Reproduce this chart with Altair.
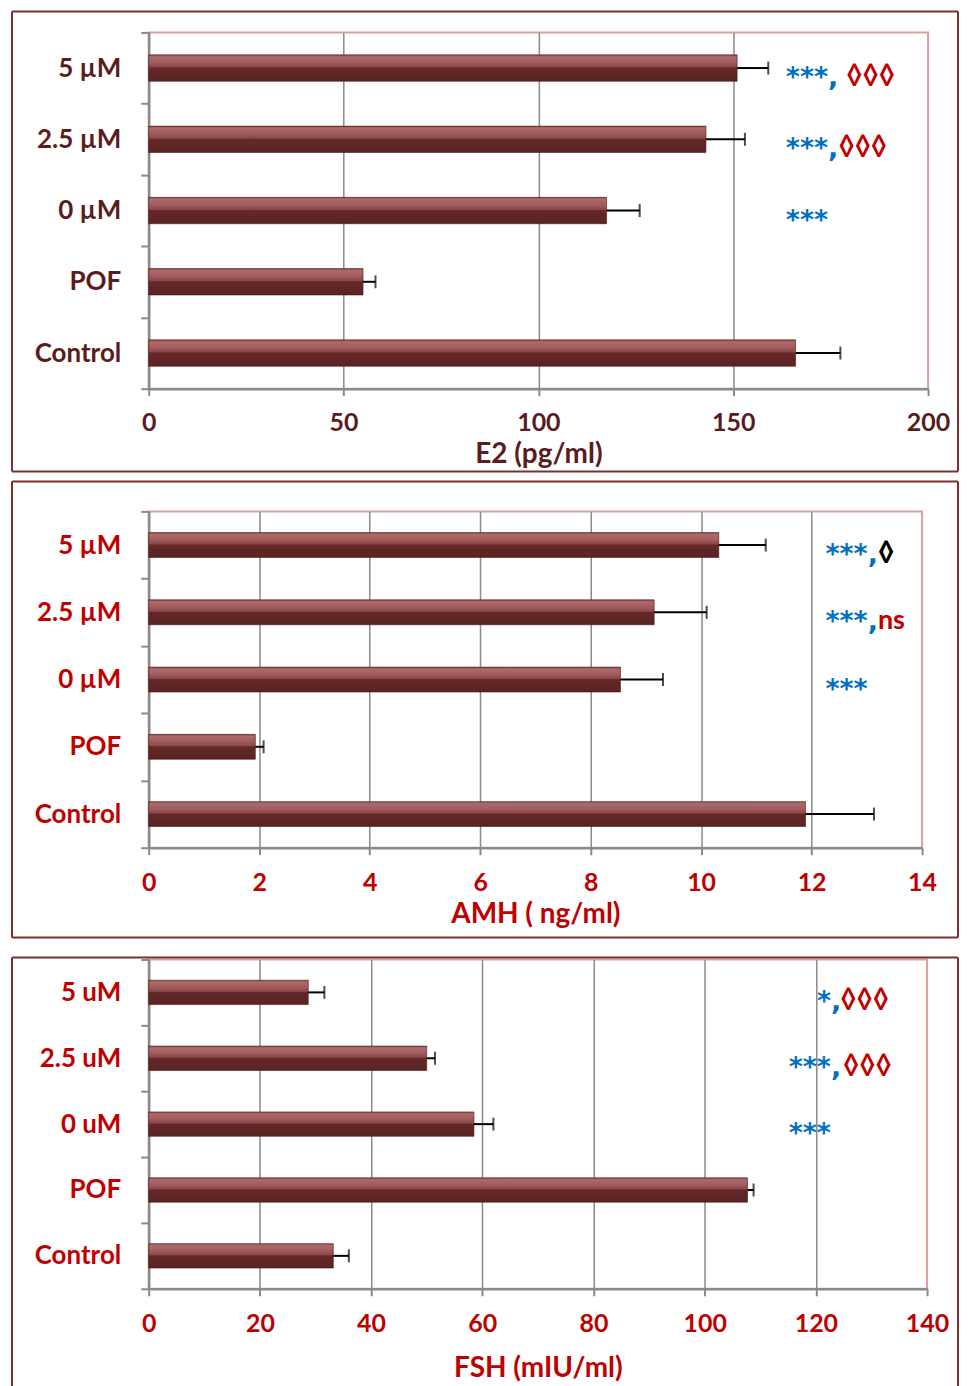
import altair as alt
import pandas as pd

# ---------------- data ----------------
e2_cats = ["5 µM", "2.5 µM", "0 µM\u00a0", "POF", "Control"]
e2_mean = [151, 143, 117.5, 55, 166]
e2_err = [8, 10, 8.5, 3.2, 11.5]
e2_ticks = [0, 50, 100, 150, 200]
e2_star_cat = ["5 µM", "2.5 µM", "0 µM\u00a0"]
e2_star_x = [163.5, 163.5, 163.5]
e2_star_txt = ["***,", "***,", "***"]
e2_dia_cat = ["5 µM", "2.5 µM"]
e2_dia_x = [179.0, 177.0]
e2_dia_txt = ["◊◊◊", "◊◊◊"]

amh_cats = ["5 µM", "2.5 µM", "0 µM\u00a0", "POF", "Control"]
amh_mean = [10.32, 9.15, 8.54, 1.93, 11.89]
amh_err = [0.85, 0.95, 0.77, 0.15, 1.24]
amh_ticks = [0, 2, 4, 6, 8, 10, 12, 14]
amh_star_cat = ["5 µM", "2.5 µM", "0 µM\u00a0"]
amh_star_x = [12.25, 12.25, 12.25]
amh_star_txt = ["***,", "***,", "***"]
amh_dia_cat = ["5 µM"]
amh_dia_x = [13.2]
amh_dia_txt = ["◊"]
amh_ns_cat = ["2.5 µM"]
amh_ns_x = [13.2]
amh_ns_txt = ["ns"]

fsh_cats = ["5 uM", "2.5 uM", "0 uM\u00a0", "POF", "Control"]
fsh_mean = [28.7, 50, 58.5, 107.7, 33.2]
fsh_err = [2.9, 1.5, 3.5, 1.1, 2.8]
fsh_ticks = [0, 20, 40, 60, 80, 100, 120, 140]
fsh_star_cat = ["5 uM", "2.5 uM", "0 uM\u00a0"]
fsh_star_x = [120.2, 115.1, 115.1]
fsh_star_txt = ["*,", "***,", "***"]
fsh_dia_cat = ["5 uM", "2.5 uM"]
fsh_dia_x = [124.4, 124.9]
fsh_dia_txt = ["◊◊◊", "◊◊◊"]

# ---------------- styling ----------------
GRAY = "#8a8a8a"
BLUE = "#0070c0"
RED = "#c00000"
MAROON = "#5a1c1c"
FRAME = "#7a3030"
FONT = "Lato"

bar_fill = alt.Gradient(
    gradient="linear",
    x1=0, x2=0, y1=0, y2=1,
    stops=[
        alt.GradientStop(offset=0.0, color="#8e4c4c"),
        alt.GradientStop(offset=0.08, color="#ad6a6a"),
        alt.GradientStop(offset=0.3, color="#a05c5c"),
        alt.GradientStop(offset=0.46, color="#8a4545"),
        alt.GradientStop(offset=0.5, color="#642828"),
        alt.GradientStop(offset=1.0, color="#5a2323"),
    ],
)

ONE = alt.Data(values=[{"k": 0}])


def frame_line(x0, x1, y0, y1):
    return alt.Chart(ONE).mark_rule(color=FRAME, strokeWidth=2).encode(
        x=alt.value(x0), x2=alt.value(x1), y=alt.value(y0), y2=alt.value(y1))


def panel(cats, means, errs, ticks, star_cat, star_x, star_txt,
          dia_cat, dia_x, dia_txt, dia_color, dia_weight, dia_size,
          ns_cat, ns_x, ns_txt,
          title, lab_color, w, h, box, bottom_line, label_pad, title_pad):
    xmax = ticks[-1]
    df = pd.DataFrame({"cat": cats, "m": means, "e": errs})
    df["hi"] = df["m"] + df["e"]

    xs = alt.Scale(domain=[0, xmax], nice=False, zero=True)
    ys = alt.Scale(domain=cats, paddingInner=0, paddingOuter=0)

    xax = alt.Axis(
        values=ticks, title=title, grid=True, format="d",
        gridColor={"condition": {"test": f"datum.value == {xmax} || datum.value == 0",
                                 "value": "transparent"}, "value": GRAY},
        gridWidth=1.5,
        domainColor=GRAY, domainWidth=2.5,
        tickColor=GRAY, tickWidth=2, tickSize=7,
        labelFont=FONT, labelFontSize=25, labelFontWeight="bold",
        labelColor=lab_color, labelPadding=label_pad, labelFlush=False,
        titleFont=FONT, titleFontSize=28, titleFontWeight="bold",
        titleColor=lab_color, titlePadding=title_pad,
    )
    yax = alt.Axis(
        title=None, grid=False, tickBand="extent",
        domainColor=GRAY, domainWidth=2.5,
        tickColor=GRAY, tickWidth=2, tickSize=8,
        labelFont=FONT, labelFontSize=26, labelFontWeight="bold",
        labelColor=lab_color, labelPadding=20,
    )
    y_enc = alt.Y("cat:N", scale=ys, axis=yax, sort=cats)
    y_plain = alt.Y("cat:N", scale=ys, sort=cats)

    bx0, bx1, by0, by1 = box
    layers = [
        frame_line(bx0, bx0, by0, by1),
        frame_line(bx0, bx1, by0, by0),
        frame_line(bx1, bx1, by0, by1),
    ]
    if bottom_line:
        layers.append(frame_line(bx0, bx1, by1, by1))

    bars = alt.Chart(df).mark_bar(
        height={"band": 0.37}, color=bar_fill, stroke="#4a1616", strokeWidth=0.6
    ).encode(x=alt.X("m:Q", scale=xs, axis=xax), y=y_enc)

    rule = alt.Chart(df).mark_rule(color="black", strokeWidth=2).encode(
        x=alt.X("m:Q", scale=xs), x2="hi:Q", y=y_plain)
    cap = alt.Chart(df).mark_tick(color="black", thickness=2, size=13).encode(
        x=alt.X("hi:Q", scale=xs), y=y_plain)

    stars_df = pd.DataFrame({"cat": star_cat, "x": star_x, "t": star_txt})
    stars = alt.Chart(stars_df).mark_text(
        align="left", baseline="middle", font="DejaVu Sans", fontSize=27,
        fontWeight="bold", color=BLUE, dy=10
    ).encode(x=alt.X("x:Q", scale=xs), y=y_plain, text="t:N")

    layers += [bars, rule, cap, stars]

    if dia_cat:
        dia_df = pd.DataFrame({"cat": dia_cat, "x": dia_x, "t": dia_txt})
        layers.append(alt.Chart(dia_df).mark_text(
            align="left", baseline="middle", font=FONT, fontSize=dia_size,
            fontWeight=dia_weight, color=dia_color, dy=9
        ).encode(x=alt.X("x:Q", scale=xs), y=y_plain, text="t:N"))
    if ns_cat:
        ns_df = pd.DataFrame({"cat": ns_cat, "x": ns_x, "t": ns_txt})
        layers.append(alt.Chart(ns_df).mark_text(
            align="left", baseline="middle", font=FONT, fontSize=27,
            fontWeight="bold", color=RED, dy=9
        ).encode(x=alt.X("x:Q", scale=xs), y=y_plain, text="t:N"))

    return alt.layer(*layers).properties(width=w, height=h)


p1 = panel(e2_cats, e2_mean, e2_err, e2_ticks, e2_star_cat, e2_star_x, e2_star_txt,
           e2_dia_cat, e2_dia_x, e2_dia_txt, RED, "bold", 28,
           [], [], [],
           "E2 (pg/ml)", MAROON, 781, 357, (-137, 811, -21, 440), True, 15, 5)
p2 = panel(amh_cats, amh_mean, amh_err, amh_ticks, amh_star_cat, amh_star_x, amh_star_txt,
           amh_dia_cat, amh_dia_x, amh_dia_txt, "black", 900, 28,
           amh_ns_cat, amh_ns_x, amh_ns_txt,
           "AMH ( ng/ml)", RED, 775, 337, (-137, 811, -30, 427), True, 16, 5)
p3 = panel(fsh_cats, fsh_mean, fsh_err, fsh_ticks, fsh_star_cat, fsh_star_x, fsh_star_txt,
           fsh_dia_cat, fsh_dia_x, fsh_dia_txt, RED, "bold", 28,
           [], [], [],
           "FSH (mIU/ml)", RED, 780, 330, (-137, 811, -2, 445), False, 16, 18)

chart = alt.concat(p1, p2, p3, columns=1, spacing=6).properties(
    padding={"left": 2, "top": 0, "right": 0, "bottom": 0},
    background="white",
).configure_view(stroke="#d9a0a0", strokeWidth=2)

chart.save("out.html", embed_options={"renderer": "svg", "actions": False})
